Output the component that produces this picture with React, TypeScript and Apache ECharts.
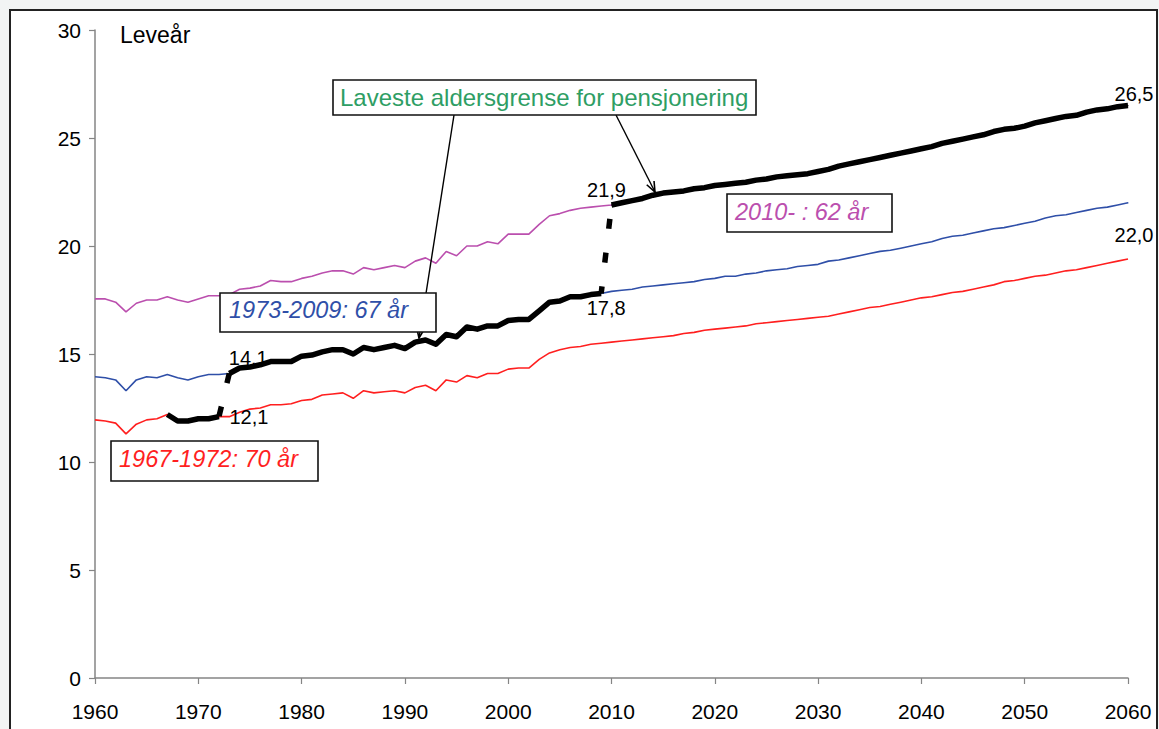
import React, { useEffect, useRef } from "react";
import * as echarts from "echarts";

// ---------- DATA ----------
const startYear = 1960;
const xMin = 1960;
const xMax = 2060;
const xStep = 10;
const yMin = 0;
const yMax = 30;
const yStep = 5;

// Remaining life years at age 62 (pink)
const age62 = [
  17.55, 17.55, 17.4, 16.95, 17.35, 17.5, 17.5, 17.65, 17.5, 17.4,
  17.55, 17.7, 17.7, 17.75, 18.0, 18.05, 18.15, 18.4, 18.35, 18.35,
  18.5, 18.6, 18.75, 18.85, 18.85, 18.7, 19.0, 18.9, 19.0, 19.1,
  19.0, 19.3, 19.45, 19.2, 19.75, 19.55, 20.0, 20.0, 20.2, 20.1,
  20.55, 20.55, 20.55, 21.0, 21.4, 21.5, 21.65, 21.75, 21.8, 21.85,
  21.9, 22.0, 22.1, 22.2, 22.35, 22.45, 22.5, 22.55, 22.65, 22.7,
  22.8, 22.85, 22.9, 22.95, 23.05, 23.1, 23.2, 23.25, 23.3, 23.35,
  23.45, 23.55, 23.7, 23.8, 23.9, 24.0, 24.1, 24.2, 24.3, 24.4,
  24.5, 24.6, 24.75, 24.85, 24.95, 25.05, 25.15, 25.3, 25.4, 25.45,
  25.55, 25.7, 25.8, 25.9, 26.0, 26.05, 26.2, 26.3, 26.35, 26.45, 26.5,
];

// Remaining life years at age 67 (blue)
const age67 = [
  13.95, 13.9, 13.8, 13.3, 13.8, 13.95, 13.9, 14.05, 13.9, 13.8,
  13.95, 14.05, 14.05, 14.1, 14.35, 14.4, 14.5, 14.65, 14.65, 14.65,
  14.9, 14.95, 15.1, 15.2, 15.2, 15.0, 15.3, 15.2, 15.3, 15.4,
  15.25, 15.55, 15.65, 15.45, 15.9, 15.8, 16.25, 16.15, 16.3, 16.3,
  16.55, 16.6, 16.6, 17.0, 17.4, 17.45, 17.65, 17.65, 17.75, 17.8,
  17.9, 17.95, 18.0, 18.1, 18.15, 18.2, 18.25, 18.3, 18.35, 18.45,
  18.5, 18.6, 18.6, 18.7, 18.75, 18.85, 18.9, 18.95, 19.05, 19.1,
  19.15, 19.3, 19.35, 19.45, 19.55, 19.65, 19.75, 19.8, 19.9, 20.0,
  20.1, 20.2, 20.35, 20.45, 20.5, 20.6, 20.7, 20.8, 20.85, 20.95,
  21.05, 21.15, 21.3, 21.4, 21.45, 21.55, 21.65, 21.75, 21.8, 21.9, 22.0,
];

// Remaining life years at age 70 (red)
const age70 = [
  11.95, 11.9, 11.8, 11.3, 11.75, 11.95, 12.0, 12.2, 11.9, 11.9,
  12.0, 12.0, 12.1, 12.1, 12.3, 12.45, 12.5, 12.65, 12.65, 12.7,
  12.85, 12.9, 13.1, 13.15, 13.2, 12.95, 13.3, 13.2, 13.25, 13.3,
  13.2, 13.45, 13.55, 13.3, 13.8, 13.7, 14.0, 13.9, 14.1, 14.1,
  14.3, 14.35, 14.35, 14.75, 15.05, 15.2, 15.3, 15.35, 15.45, 15.5,
  15.55, 15.6, 15.65, 15.7, 15.75, 15.8, 15.85, 15.95, 16.0, 16.1,
  16.15, 16.2, 16.25, 16.3, 16.4, 16.45, 16.5, 16.55, 16.6, 16.65,
  16.7, 16.75, 16.85, 16.95, 17.05, 17.15, 17.2, 17.3, 17.4, 17.5,
  17.6, 17.65, 17.75, 17.85, 17.9, 18.0, 18.1, 18.2, 18.35, 18.4,
  18.5, 18.6, 18.65, 18.75, 18.85, 18.9, 19.0, 19.1, 19.2, 19.3, 19.4,
];

// Lowest retirement age regimes: 70 (1967-1972), 67 (1973-2009), 62 (2010-)
const regimeFrom = [1967, 1973, 2010];
const regimeTo = [1972, 2009, 2060];

const yAxisTitle = "Leveår";
const boxTitle = "Laveste aldersgrense for pensjonering";
const regimeTexts = ["1967-1972: 70 år", "1973-2009: 67 år", "2010- : 62 år"];

// ---------- STYLE ----------
const FONT = "Arial, 'Liberation Sans', Helvetica, sans-serif";
const PINK = "#BB4FAE";
const BLUE = "#2F4FA8";
const RED = "#FF1F1F";
const GREEN = "#2E9E64";
const AXIS = "#858585";

const fmt = (v: number) => v.toFixed(1).replace(".", ",");
const at = (arr: number[], year: number) => arr[year - startYear];
const series = (arr: number[]) => arr.map((v, i) => [startYear + i, v]);
const segment = (arr: number[], from: number, to: number) =>
  arr.slice(from - startYear, to - startYear + 1).map((v, k) => [from + k, v] as any);

const labeled = (pt: number[], color: string, label: any) => ({
  value: pt,
  symbol: "circle",
  symbolSize: 1,
  itemStyle: { color },
  label: {
    show: true,
    formatter: fmt(pt[1]),
    fontFamily: FONT,
    fontSize: 20,
    color: "#000",
    ...label,
  },
});

function arrowHead(x1: number, y1: number, x2: number, y2: number, len = 11, ang = 0.38) {
  const a = Math.atan2(y2 - y1, x2 - x1);
  return [
    [x2 - len * Math.cos(a - ang), y2 - len * Math.sin(a - ang)],
    [x2, y2],
    [x2 - len * Math.cos(a + ang), y2 - len * Math.sin(a + ang)],
  ];
}

function box(x: number, y: number, w: number, h: number) {
  return {
    type: "rect",
    z: 100,
    shape: { x, y, width: w, height: h },
    style: { fill: "#fff", stroke: "#111", lineWidth: 1.6 },
  };
}

function label(text: string, x: number, y: number, color: string, italic: boolean, size: number) {
  return {
    type: "text",
    z: 101,
    x,
    y,
    style: {
      text,
      fill: color,
      font: `${italic ? "italic " : ""}${size}px ${FONT}`,
      textVerticalAlign: "middle",
      textAlign: "left",
    },
  };
}

export default function App() {
  const ref = useRef<HTMLDivElement>(null);

  useEffect(() => {
    document.body.style.margin = "0";
    if (!ref.current) return;
    const chart = echarts.init(ref.current, undefined, { renderer: "svg" });

    const seg70 = segment(age70, regimeFrom[0], regimeTo[0]);
    const seg67 = segment(age67, regimeFrom[1], regimeTo[1]);
    const seg62 = segment(age62, regimeFrom[2], regimeTo[2]);

    seg70[seg70.length - 1] = labeled(seg70[seg70.length - 1], "#000", { position: "right", distance: 10 });
    seg67[0] = labeled(seg67[0], "#000", { position: "top", distance: 5, offset: [19, 0] });
    seg67[seg67.length - 1] = labeled(seg67[seg67.length - 1], "#000", { position: "bottom", distance: 5, offset: [5, -1] });
    seg62[0] = labeled(seg62[0], "#000", { position: "top", distance: 5, offset: [-5, 1] });
    seg62[seg62.length - 1] = labeled(seg62[seg62.length - 1], "#000", { position: "top", distance: 5, offset: [6, 4] });

    const blueData: any[] = series(age67);
    blueData[blueData.length - 1] = labeled(blueData[blueData.length - 1], BLUE, {
      position: "bottom",
      distance: 5,
      offset: [6, 17],
    });

    const thin = (name: string, data: any[], color: string) => ({
      name,
      type: "line",
      data,
      symbol: "none",
      showSymbol: true,
      lineStyle: { color, width: 1.6 },
      itemStyle: { color },
      z: 2,
      silent: true,
    });
    const thick = (name: string, data: any[]) => ({
      name,
      type: "line",
      data,
      symbol: "none",
      showSymbol: true,
      lineStyle: { color: "#000", width: 5.5, join: "round" },
      itemStyle: { color: "#000" },
      z: 4,
      silent: true,
    });
    const connector = (name: string, data: any[], offset: number) => ({
      name,
      type: "line",
      data,
      symbol: "none",
      lineStyle: { color: "#000", width: 5.5, type: [10, 24], dashOffset: offset },
      z: 3,
      silent: true,
    });

    const a1 = [454, 115, 419, 338];
    const a2 = [616, 115, 655, 192];

    chart.setOption({
      animation: false,
      backgroundColor: "transparent",
      textStyle: { fontFamily: FONT },
      grid: { left: 95, right: 31, top: 30, bottom: 51, containLabel: false },
      xAxis: {
        type: "value",
        min: xMin,
        max: xMax,
        interval: xStep,
        axisLine: { lineStyle: { color: AXIS, width: 1.5 } },
        axisTick: { show: true, inside: false, length: 6, lineStyle: { color: AXIS, width: 1.2 } },
        axisLabel: {
          color: "#000",
          fontSize: 21,
          fontFamily: FONT,
          margin: 23,
          formatter: (v: number) => String(v),
        },
        splitLine: { show: false },
      },
      yAxis: {
        type: "value",
        min: yMin,
        max: yMax,
        interval: yStep,
        axisLine: { show: true, lineStyle: { color: AXIS, width: 1.5 } },
        axisTick: { show: true, inside: false, length: 6, lineStyle: { color: AXIS, width: 1.2 } },
        axisLabel: { color: "#000", fontSize: 21, fontFamily: FONT, margin: 14 },
        splitLine: { show: false },
      },
      series: [
        thin("62 år", series(age62), PINK),
        thin("67 år", blueData, BLUE),
        thin("70 år", series(age70), RED),
        connector(
          "overgang 1973",
          [
            [regimeFrom[1], at(age67, regimeFrom[1])],
            [regimeTo[0], at(age70, regimeTo[0])],
          ],
          0
        ),
        connector(
          "overgang 2010",
          [
            [regimeFrom[2], at(age62, regimeFrom[2])],
            [regimeTo[1], at(age67, regimeTo[1])],
          ],
          20
        ),
        thick("1967-1972", seg70),
        thick("1973-2009", seg67),
        thick("2010-", seg62),
      ],
      graphic: [
        {
          type: "text",
          z: 101,
          x: 120,
          y: 35,
          style: { text: yAxisTitle, fill: "#000", font: `23px ${FONT}`, textVerticalAlign: "middle" },
        },
        {
          type: "line",
          z: 99,
          shape: { x1: a1[0], y1: a1[1], x2: a1[2], y2: a1[3] },
          style: { stroke: "#000", lineWidth: 1.4 },
        },
        {
          type: "polyline",
          z: 99,
          shape: { points: arrowHead(a1[0], a1[1], a1[2], a1[3]) },
          style: { stroke: "#000", lineWidth: 1.6, fill: "none" },
        },
        {
          type: "line",
          z: 99,
          shape: { x1: a2[0], y1: a2[1], x2: a2[2], y2: a2[3] },
          style: { stroke: "#000", lineWidth: 1.4 },
        },
        {
          type: "polyline",
          z: 99,
          shape: { points: arrowHead(a2[0], a2[1], a2[2], a2[3]) },
          style: { stroke: "#000", lineWidth: 1.6, fill: "none" },
        },
        box(333, 80, 423, 35),
        label(boxTitle, 340, 97, GREEN, false, 24),
        box(220, 293, 216, 39),
        label(regimeTexts[1], 229, 310, BLUE, true, 23.5),
        box(111, 441, 207, 40),
        label(regimeTexts[0], 119, 459, RED, true, 23.5),
        box(727, 194, 165, 38),
        label(regimeTexts[2], 735, 212, PINK, true, 23.5),
      ],
    });

    return () => chart.dispose();
  }, []);

  return (
    <div style={{ position: "relative", width: 1159, height: 729, background: "#f2f4f4", overflow: "hidden" }}>
      <div
        style={{
          position: "absolute",
          left: 9,
          top: 9,
          width: 1149,
          height: 760,
          background: "#fff",
          border: "2px solid #222",
          boxSizing: "border-box",
        }}
      />
      <div ref={ref} style={{ position: "absolute", left: 0, top: 0, width: 1159, height: 729 }} />
    </div>
  );
}
